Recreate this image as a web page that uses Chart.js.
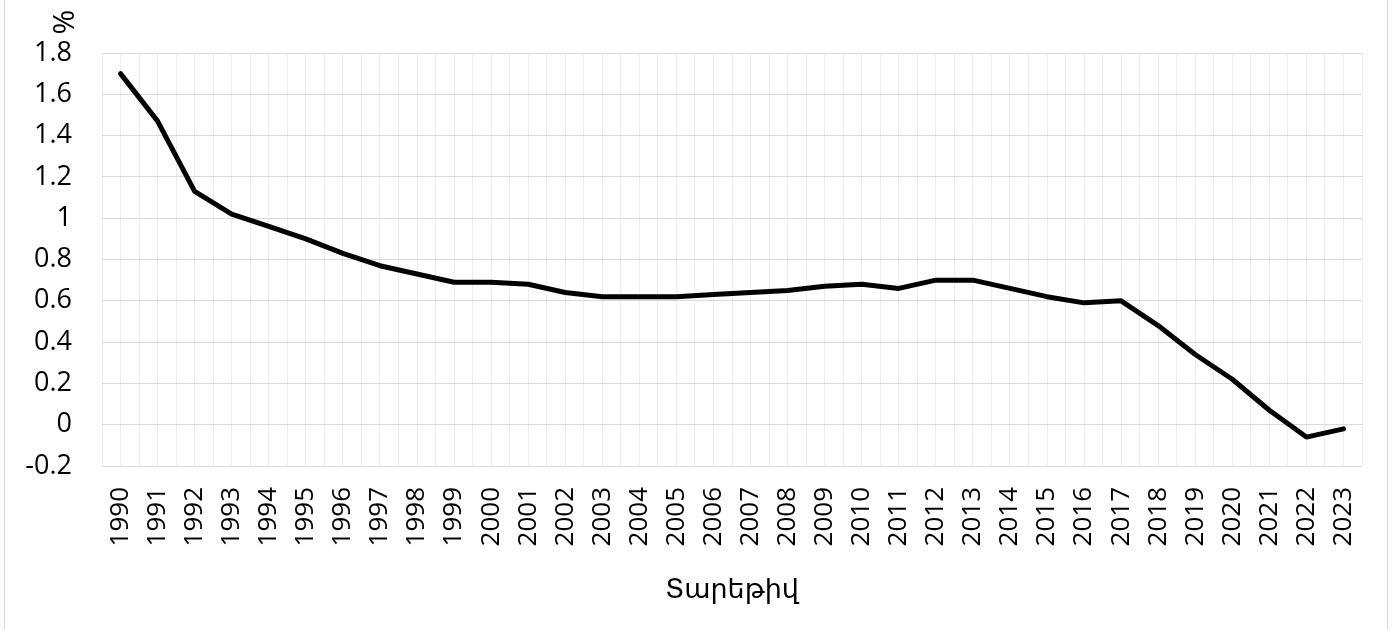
<!DOCTYPE html>
<html>
<head>
<meta charset="utf-8">
<script src="https://cdn.jsdelivr.net/npm/chart.js@4"></script>
<style>
  html, body { margin: 0; padding: 0; background: #fff; }
  #wrap { position: relative; width: 1397px; height: 629px; overflow: hidden; }
  #frame { position: absolute; left: 4px; top: -4px; width: 1384px; height: 640px; border: 1px solid #d9d9d9; box-sizing: border-box; }
  canvas { position: absolute; left: 0; top: 0; }
</style>
</head>
<body>
<div id="wrap">
  <div id="frame"></div>
  <canvas id="chart" width="1397" height="629"></canvas>
</div>
<script>
// Տարիներ
const years = [
  '1990', '1991', '1992', '1993', '1994', '1995', '1996', '1997', '1998', '1999',
  '2000', '2001', '2002', '2003', '2004', '2005', '2006', '2007', '2008', '2009',
  '2010', '2011', '2012', '2013', '2014', '2015', '2016', '2017', '2018', '2019',
  '2020', '2021', '2022', '2023'
];

// Արժեքներ, %
const values = [
  1.70, 1.47, 1.13, 1.02, 0.96, 0.90, 0.83, 0.77, 0.73, 0.69,
  0.69, 0.68, 0.64, 0.62, 0.62, 0.62, 0.63, 0.64, 0.65, 0.67,
  0.68, 0.66, 0.70, 0.70, 0.66, 0.62, 0.59, 0.60, 0.48, 0.34,
  0.22, 0.07, -0.06, -0.02
];

const yMin = -0.2;
const yMax = 1.8;
const yStep = 0.2;
const xTitle = 'Տարեթիվ';
const yTitle = '%';

Chart.defaults.font.family = "'Open Sans', 'DejaVu Sans', sans-serif";
Chart.defaults.color = '#000';

// "%" վերնագիրը ձախ վերևում
const percentLabel = {
  id: 'percentLabel',
  afterDraw(chart) {
    const ctx = chart.ctx;
    ctx.save();
    ctx.translate(65, 22);
    ctx.rotate(-Math.PI / 2);
    ctx.font = "30px 'Open Sans', 'DejaVu Sans', sans-serif";
    ctx.fillStyle = '#000';
    ctx.textAlign = 'center';
    ctx.textBaseline = 'middle';
    ctx.fillText(yTitle, 0, 0);
    ctx.restore();
  }
};

new Chart(document.getElementById('chart'), {
  type: 'line',
  data: {
    labels: years,
    datasets: [{
      data: values,
      borderColor: '#000',
      borderWidth: 5,
      borderJoinStyle: 'round',
      borderCapStyle: 'round',
      pointRadius: 0,
      tension: 0,
      fill: false
    }]
  },
  options: {
    responsive: false,
    animation: false,
    layout: { padding: { left: 0, top: 53, right: 35, bottom: 22 } },
    plugins: {
      legend: { display: false },
      tooltip: { enabled: false }
    },
    scales: {
      x: {
        offset: true,
        grid: { offset: false, color: '#ececec', drawTicks: false },
        border: { display: false },
        ticks: {
          minRotation: 90,
          maxRotation: 90,
          autoSkip: false,
          padding: 21,
          font: { size: 26 }
        },
        title: {
          display: true,
          text: xTitle,
          font: { size: 27 },
          padding: 0
        },
        afterFit(scale) { scale.height = 141; }
      },
      x2: {
        type: 'category',
        labels: years,
        position: 'bottom',
        offset: true,
        grid: { offset: true, color: '#ececec', drawTicks: false },
        border: { display: false },
        ticks: { display: false }
      },
      y: {
        min: yMin,
        max: yMax,
        ticks: {
          stepSize: yStep,
          padding: 30,
          font: { size: 27 },
          callback: v => Math.round(v * 10) / 10
        },
        grid: { color: '#d9d9d9', drawTicks: false },
        border: { display: false },
        afterFit(scale) { scale.width = 102; }
      }
    }
  },
  plugins: [percentLabel]
});
</script>
</body>
</html>
